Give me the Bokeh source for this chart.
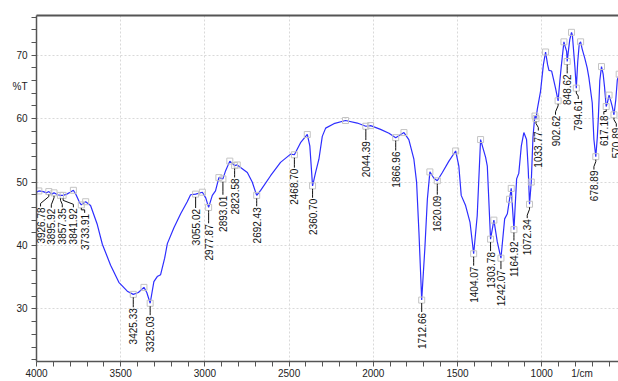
import math
from bokeh.plotting import figure
from bokeh.models import Range1d, FixedTicker, LinearAxis
from bokeh.core.properties import value
from bokeh.embed import file_html
from bokeh.resources import INLINE

# ---------------- data ----------------
wavenumber = [4000, 3986, 3960, 3940, 3926.78, 3910, 3895.92, 3875, 3857.35, 3841.92,
              3820, 3800, 3781, 3765, 3745, 3733.91, 3720, 3708, 3679, 3639,
              3609, 3560, 3511, 3461, 3425.33, 3395, 3362, 3345, 3325.03, 3303,
              3283, 3263, 3239, 3223, 3184, 3144, 3105, 3085, 3055.02, 3015,
              2995, 2977.87, 2956, 2937, 2917, 2893.01, 2877, 2852, 2823.58, 2808,
              2748, 2719, 2692.43, 2669, 2610, 2551, 2491, 2468.70, 2432, 2392,
              2377, 2360.70, 2343, 2323, 2303, 2283, 2234, 2165, 2095, 2044.39,
              2016, 1957, 1907, 1866.96, 1818, 1789, 1759, 1743, 1729, 1712.66,
              1694, 1679, 1664, 1640, 1620.09, 1590, 1551, 1511, 1492, 1478,
              1452, 1426, 1404.07, 1383, 1363, 1347, 1333, 1323, 1303.78, 1284,
              1264, 1242.07, 1220, 1204, 1191, 1181, 1164.92, 1149, 1136, 1121,
              1106, 1090, 1080, 1072.34, 1062, 1052, 1044, 1040, 1033.77, 1026,
              1007, 990, 977, 965, 957, 941, 928, 918, 902.62, 892,
              884, 868, 860, 852, 848.62, 840, 833, 823, 818, 810,
              803, 794.61, 786, 777, 769, 760, 744, 730, 720, 700,
              690, 678.89, 670, 664, 655, 645, 635, 627, 617.18, 610,
              600, 590, 581, 570.89, 560, 551, 540, 530]
transmittance = [48.4, 48.6, 48.5, 48.3, 48.5, 48.1, 48.3, 48.0, 47.9, 47.9,
                 48.1, 48.4, 48.7, 48.0, 46.8, 46.4, 46.7, 46.9, 46.3, 43.3,
                 40.2, 36.9, 34.2, 32.8, 32.3, 32.6, 33.4, 32.6, 30.9, 34.3,
                 35.1, 35.4, 38.0, 40.3, 42.8, 45.0, 46.9, 48.0, 48.1, 48.4,
                 47.5, 46.0, 47.9, 48.6, 50.7, 50.5, 51.8, 53.3, 52.6, 52.7,
                 51.5, 50.0, 47.9, 48.7, 51.0, 53.1, 54.4, 54.3, 56.2, 57.5,
                 55.7, 49.4, 51.5, 53.6, 57.2, 58.5, 59.2, 59.7, 59.3, 58.8,
                 58.9, 58.3, 57.7, 57.0, 57.8, 56.7, 53.6, 50.0, 42.1, 31.4,
                 39.5, 47.3, 51.6, 50.6, 50.2, 51.5, 53.3, 54.9, 52.5, 47.9,
                 46.3, 43.7, 38.7, 44.7, 56.7, 55.2, 53.9, 52.5, 41.0, 44.0,
                 40.6, 38.0, 44.2, 45.0, 47.3, 49.0, 42.5, 50.5, 51.4, 55.7,
                 57.8, 56.7, 52.0, 46.5, 50.0, 57.0, 59.5, 60.4, 60.0, 61.5,
                 64.3, 68.5, 70.5, 68.5, 67.6, 67.5, 66.0, 64.8, 62.8, 66.0,
                 68.2, 72.1, 71.3, 70.6, 69.0, 71.0, 72.5, 73.6, 73.2, 70.5,
                 68.2, 64.8, 69.0, 71.8, 72.1, 71.0, 69.5, 68.0, 66.5, 62.5,
                 56.7, 54.0, 57.0, 60.0, 66.0, 68.2, 67.0, 65.0, 61.9, 62.5,
                 63.7, 62.8, 61.9, 60.6, 63.0, 66.1, 67.0, 67.5]

peak_wn = [3926.78, 3895.92, 3857.35, 3841.92, 3733.91, 3425.33, 3325.03, 3055.02,
           2977.87, 2893.01, 2823.58, 2692.43, 2468.70, 2360.70, 2044.39, 1866.96,
           1712.66, 1620.09, 1404.07, 1303.78, 1242.07, 1164.92, 1072.34, 1033.77,
           902.62, 848.62, 794.61, 678.89, 617.18, 570.89]
peak_t = [48.5, 48.3, 47.9, 47.9, 46.4, 32.3, 30.9, 48.1,
          46.0, 50.5, 52.6, 47.9, 54.3, 49.4, 58.8, 57.0,
          31.4, 50.2, 38.7, 41.0, 38.0, 42.5, 46.5, 60.0,
          62.8, 69.0, 64.8, 54.0, 61.9, 60.6]
peak_text = ["3926.78", "3895.92", "3857.35", "3841.92", "3733.91", "3425.33", "3325.03", "3055.02",
             "2977.87", "2893.01", "2823.58", "2692.43", "2468.70", "2360.70", "2044.39", "1866.96",
             "1712.66", "1620.09", "1404.07", "1303.78", "1242.07", "1164.92", "1072.34", "1033.77",
             "902.62", "848.62", "794.61", "678.89", "617.18", "570.89"]

max_wn = [3986, 3781, 3708, 3362, 3015, 2917, 2852, 2808, 2392, 2165, 2016, 1818,
          1664, 1511, 1363, 1284, 1191, 1181, 1062, 1040, 977, 868, 823, 769, 645, 600, 540]
max_t = [48.6, 48.7, 46.9, 33.4, 48.4, 50.7, 53.3, 52.7, 57.5, 59.7, 58.9, 57.8,
         51.6, 54.9, 56.7, 44.0, 47.3, 49.0, 50.0, 60.4, 70.5, 72.1, 73.6, 72.1, 68.2, 63.7, 67.0]

x_major = [4000, 3500, 3000, 2500, 2000, 1500, 1000, 500]
x_minor = list(range(600, 4001, 100))
y_major = [30, 40, 50, 60, 70]
y_minor = list(range(22, 77, 2))
x_unit_label = "1/cm"
x_unit_pos = 760
y_unit_label = "%T"
y_unit_pos = 65

# ---------------- layout ----------------
W, H = 618, 381
LEFT, TOP = 36, 15
X0, X1 = 4000, 544
Y0, Y1 = 21.72, 76.25
FRAME_W = W - LEFT
FRAME_H = 349
WN_PX = (X0 - X1) / FRAME_W
T_PX = (Y1 - Y0) / FRAME_H

FONT = "Liberation Sans"

# label placement (screen px gap below peak, label x position)
label_shift = {3926.78: 3976, 3895.92: 3912, 3857.35: 3847, 3841.92: 3781, 3733.91: 3714,
               1072.34: 1086, 1033.77: 1020, 902.62: 918, 794.61: 783, 678.89: 690,
               617.18: 631, 570.89: 557}
gaps = [16, 16, 13, 13, 9, 14, 13, 15,
        17, 17, 13, 12, 14, 13, 15, 14,
        13, 15, 13, 13, 12, 12, 15, 13,
        15, 13, 12, 14, 9, 13]

p = figure(width=W, height=H, output_backend="svg", toolbar_location=None,
           x_range=Range1d(X0, X1), y_range=Range1d(Y0, Y1),
           min_border_left=LEFT, min_border_right=0, min_border_top=TOP,
           min_border_bottom=0, background_fill_color="white",
           border_fill_color="white", outline_line_color=None)

for ax in (p.xaxis[0], p.yaxis[0]):
    ax.axis_line_color = "#555555"
    ax.axis_line_width = 1.5
    ax.major_tick_line_color = None
    ax.major_tick_out = 0
    ax.major_tick_in = 0
    ax.minor_tick_line_color = "#555555"
    ax.minor_tick_in = 0
    ax.major_label_text_font = FONT
    ax.major_label_text_font_size = "10px"
    ax.major_label_text_color = "#222222"

# tick marks every 100 / every 2 units; text labels at majors plus unit names
p.xaxis.ticker = FixedTicker(ticks=x_major + [x_unit_pos], minor_ticks=x_minor)
p.xaxis.major_label_overrides = {x_unit_pos: x_unit_label}
p.xaxis.minor_tick_out = 5
p.xaxis.major_label_standoff = 1
p.yaxis.ticker = FixedTicker(ticks=y_major + [y_unit_pos], minor_ticks=y_minor)
p.yaxis.major_label_overrides = {y_unit_pos: y_unit_label}
p.yaxis.minor_tick_out = 5
p.yaxis.major_label_standoff = 4

p.xgrid.ticker = FixedTicker(ticks=x_major)
p.ygrid.ticker = FixedTicker(ticks=y_major)
p.grid.grid_line_color = "#d9d9d9"
p.grid.grid_line_dash = "2 2"
p.grid.grid_line_width = 1

top_axis = LinearAxis(ticker=FixedTicker(ticks=[]), major_label_text_font_size="0px",
                      major_tick_out=0, minor_tick_out=0, major_label_standoff=0,
                      axis_line_color="#555555", axis_line_width=2)
p.add_layout(top_axis, "above")

# spectrum
p.line(wavenumber, transmittance, line_color="#2e2eff", line_width=1.2)

# markers
p.scatter(max_wn, max_t, marker="square", size=6, fill_color=None,
          line_color="#c4c4c4", line_width=1)
p.scatter(peak_wn, peak_t, marker="square", size=6, fill_color=None,
          line_color="#c4c4c4", line_width=1)

# leaders and labels
lx, ly, xs, ys = [], [], [], []
for w, t, g in zip(peak_wn, peak_t, gaps):
    x_lab = label_shift.get(w, w)
    top_t = t - g * T_PX
    lx.append(x_lab)
    ly.append(top_t)
    xs.append([w, w, x_lab, x_lab])
    ys.append([t - 3 * T_PX, t - 5 * T_PX, top_t + 4 * T_PX, top_t + 1 * T_PX])
p.multi_line(xs, ys, line_color="#111111", line_width=1)
p.text(lx, ly, text=peak_text, angle=math.pi / 2, text_align="right",
       text_baseline="middle", text_font=value(FONT), text_font_size="10px",
       text_color="#111111")

open("out.html", "w").write(file_html(p, INLINE))
